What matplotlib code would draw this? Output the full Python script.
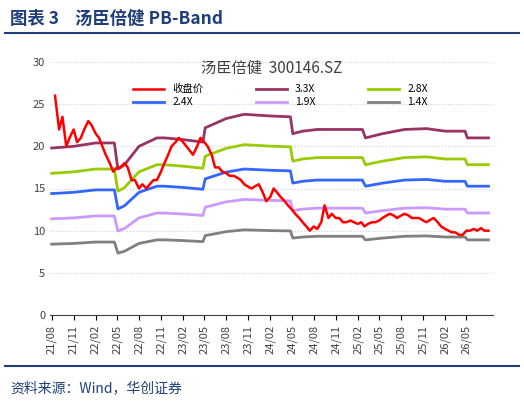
import matplotlib
matplotlib.use("Agg")
import matplotlib.pyplot as plt
import pandas as pd

plt.rcParams['font.family'] = ['Noto Sans CJK SC', 'DejaVu Sans']

# band base
bv_dates = ["2021-08-01","2021-11-01","2022-02-01","2022-04-20","2022-05-05","2022-06-01","2022-08-01",
            "2022-10-15","2022-11-15","2023-02-01","2023-04-25","2023-05-05","2023-08-01","2023-10-15",
            "2024-02-01","2024-04-25","2024-05-05","2024-06-15","2024-08-15","2024-11-15","2025-02-20",
            "2025-03-05","2025-05-15","2025-08-15","2025-11-15","2026-02-01","2026-04-25","2026-05-05","2026-08-01"]
bv_33 = [19.8,20.0,20.4,20.4,17.3,17.8,20.0,21.0,21.0,20.8,20.5,22.2,23.3,23.8,23.6,23.5,21.5,21.8,
         22.0,22.0,22.0,21.0,21.5,22.0,22.1,21.8,21.8,21.0,21.0]
bvps = [v / 3.3 for v in bv_33]
multiples = [3.3, 2.8, 2.4, 1.9, 1.4]
band_labels = ["3.3X", "2.8X", "2.4X", "1.9X", "1.4X"]
band_colors = ["#993366", "#99CC00", "#3366FF", "#CC99FF", "#808080"]

price = [26,22, 23.5,20, 21,22, 20.5,21, 22,23, 22.5,21.5, 21,20, 19,18, 17,17.5, 17.5,18,
         17.5,16, 16,15, 15.5,15, 15.5,16, 16,17, 18,19, 20,20.5, 21,20.5, 20,19.5, 19,20,
         21,20.5, 20,19, 17.5,17.5, 17,16.8, 16.5,16.5, 16.3,16, 15.5,15.2, 15,15.3, 15.5,14.5,
         13.5,14, 15,14.5, 14,13.5, 13,12.5, 12,11.5, 11,10.5, 10,10.5, 10.2,11, 13,11.5,
         12,11.5, 11.5,11, 11,11.2, 11,10.8, 11,10.5, 10.8,11, 11,11.2, 11.5,11.8, 12,11.8,
         11.5,11.8, 12,11.8, 11.5,11.5, 11.5,11.2, 11,11.3, 11.5,11, 10.5,10.2, 10,9.8,
         9.8,9.5, 9.5,10, 10,10.2, 10,10.3, 10,10]
price_dates = pd.date_range("2021-08-05", periods=len(price), freq="SMS")

tick_labels = ["21/08","21/11","22/02","22/05","22/08","22/11","23/02","23/05","23/08","23/11",
               "24/02","24/05","24/08","24/11","25/02","25/05","25/08","25/11","26/02","26/05"]
tick_dates = pd.to_datetime(["20" + t[:2] + "-" + t[3:] + "-01" for t in tick_labels])

fig = plt.figure(figsize=(5.24, 4.13), dpi=100)
navy = "#1F3F7A"
fig.text(0.02, 0.955, "图表 3    汤臣倍健 PB-Band", fontsize=12.5, fontweight="bold", color=navy, va="center")
fig.add_artist(plt.Line2D([0.01, 0.99], [0.92, 0.92], color=navy, lw=1.5))
fig.add_artist(plt.Line2D([0.01, 0.99], [0.115, 0.115], color=navy, lw=1.5))
fig.text(0.02, 0.06, "资料来源：Wind，华创证券", fontsize=10, style="italic", color=navy, va="center")

ax = fig.add_axes([50/524, (413-315)/413, 443/524, (315-62)/413])
bvd = pd.to_datetime(bv_dates)
h_price, = ax.plot(price_dates, price, color="red", lw=1.8, label="收盘价", zorder=5)
hs = []
for m, lab, c in zip(multiples, band_labels, band_colors):
    h, = ax.plot(bvd, [b * m for b in bvps], color=c, lw=2, label=lab)
    hs.append(h)

ax.set_ylim(0, 30)
ax.set_xlim(pd.Timestamp("2021-07-25"), pd.Timestamp("2026-08-20"))
ax.set_yticks(range(0, 31, 5))
ax.set_xticks(tick_dates)
ax.set_xticklabels(tick_labels, rotation=90, fontsize=8, color="#404040")
ax.tick_params(axis="y", length=0, labelsize=8, labelcolor="#404040")
ax.yaxis.grid(True, color="#C5D5EA", ls=":", lw=0.8)
for s in ["top", "right", "left"]:
    ax.spines[s].set_visible(False)
ax.spines["bottom"].set_color("#404040")
ax.text(0.5, 0.975, "汤臣倍健  300146.SZ", transform=ax.transAxes, ha="center", va="center",
        fontsize=11, color="#404040")
order = [h_price, hs[2], hs[0], hs[3], hs[1], hs[4]]
ax.legend(order, [h.get_label() for h in order], loc="upper center", bbox_to_anchor=(0.52, 0.95),
          ncol=3, frameon=False, fontsize=7.5, handlelength=3, columnspacing=5, labelspacing=0.3)
fig.savefig("out.png", dpi=100)
